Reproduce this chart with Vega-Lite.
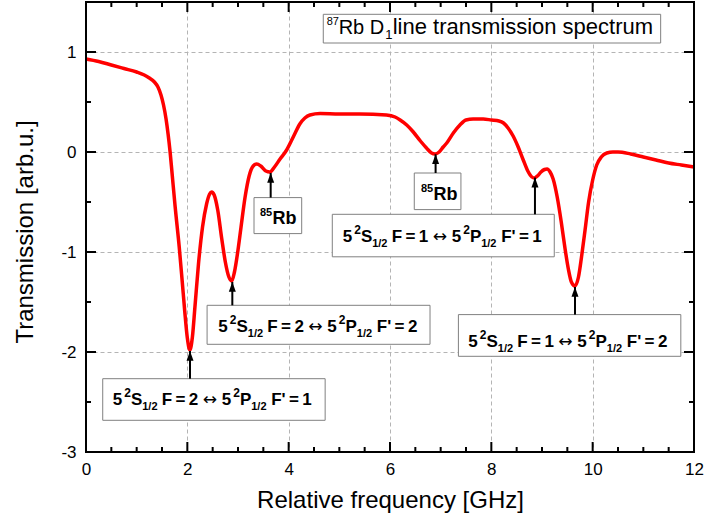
{
  "$schema": "https://vega.github.io/schema/vega-lite/v6.json",
  "width": 608,
  "height": 450,
  "autosize": {"type": "none"},
  "padding": {"left": 86, "top": 2, "right": 11, "bottom": 71},
  "background": "white",
  "config": {"view": {"stroke": null}, "font": "Liberation Sans"},
  "datasets": {
    "curve": [
      {"x": 0.0, "y": 0.93}, {"x": 0.25, "y": 0.905}, {"x": 0.5, "y": 0.87}, {"x": 0.75, "y": 0.835},
      {"x": 1.0, "y": 0.80}, {"x": 1.15, "y": 0.77}, {"x": 1.25, "y": 0.74}, {"x": 1.35, "y": 0.70},
      {"x": 1.42, "y": 0.65}, {"x": 1.48, "y": 0.57}, {"x": 1.53, "y": 0.47}, {"x": 1.58, "y": 0.33},
      {"x": 1.62, "y": 0.18}, {"x": 1.66, "y": 0.0}, {"x": 1.70, "y": -0.22}, {"x": 1.76, "y": -0.55},
      {"x": 1.84, "y": -0.95}, {"x": 1.90, "y": -1.30}, {"x": 1.95, "y": -1.60}, {"x": 2.00, "y": -1.86},
      {"x": 2.05, "y": -1.98}, {"x": 2.10, "y": -1.85}, {"x": 2.15, "y": -1.55}, {"x": 2.22, "y": -1.12},
      {"x": 2.30, "y": -0.75}, {"x": 2.38, "y": -0.52}, {"x": 2.44, "y": -0.42}, {"x": 2.48, "y": -0.40},
      {"x": 2.53, "y": -0.43}, {"x": 2.60, "y": -0.58}, {"x": 2.68, "y": -0.87}, {"x": 2.75, "y": -1.10},
      {"x": 2.82, "y": -1.25}, {"x": 2.875, "y": -1.29}, {"x": 2.93, "y": -1.20}, {"x": 3.00, "y": -0.98},
      {"x": 3.06, "y": -0.75}, {"x": 3.14, "y": -0.45}, {"x": 3.22, "y": -0.24}, {"x": 3.30, "y": -0.14},
      {"x": 3.37, "y": -0.12}, {"x": 3.45, "y": -0.14}, {"x": 3.55, "y": -0.19}, {"x": 3.63, "y": -0.20},
      {"x": 3.72, "y": -0.15}, {"x": 3.83, "y": -0.07}, {"x": 3.96, "y": 0.02}, {"x": 4.10, "y": 0.16},
      {"x": 4.22, "y": 0.28}, {"x": 4.32, "y": 0.34}, {"x": 4.42, "y": 0.37}, {"x": 4.62, "y": 0.385},
      {"x": 5.0, "y": 0.38}, {"x": 5.4, "y": 0.38}, {"x": 5.93, "y": 0.37}, {"x": 6.10, "y": 0.35},
      {"x": 6.20, "y": 0.32}, {"x": 6.33, "y": 0.27}, {"x": 6.46, "y": 0.20}, {"x": 6.60, "y": 0.11},
      {"x": 6.72, "y": 0.04}, {"x": 6.82, "y": -0.01}, {"x": 6.89, "y": -0.02}, {"x": 6.97, "y": 0.0},
      {"x": 7.05, "y": 0.05}, {"x": 7.12, "y": 0.09}, {"x": 7.25, "y": 0.19}, {"x": 7.38, "y": 0.27},
      {"x": 7.50, "y": 0.32}, {"x": 7.64, "y": 0.33}, {"x": 7.84, "y": 0.33}, {"x": 8.0, "y": 0.32},
      {"x": 8.15, "y": 0.31}, {"x": 8.24, "y": 0.29}, {"x": 8.33, "y": 0.24}, {"x": 8.43, "y": 0.16},
      {"x": 8.53, "y": 0.05}, {"x": 8.63, "y": -0.08}, {"x": 8.72, "y": -0.19}, {"x": 8.80, "y": -0.25},
      {"x": 8.85, "y": -0.26}, {"x": 8.92, "y": -0.235}, {"x": 8.98, "y": -0.20}, {"x": 9.05, "y": -0.175},
      {"x": 9.10, "y": -0.17}, {"x": 9.16, "y": -0.20}, {"x": 9.22, "y": -0.27}, {"x": 9.30, "y": -0.45},
      {"x": 9.38, "y": -0.70}, {"x": 9.45, "y": -0.95}, {"x": 9.52, "y": -1.17}, {"x": 9.58, "y": -1.30},
      {"x": 9.65, "y": -1.34}, {"x": 9.72, "y": -1.25}, {"x": 9.78, "y": -1.05}, {"x": 9.85, "y": -0.78},
      {"x": 9.92, "y": -0.50}, {"x": 10.0, "y": -0.28}, {"x": 10.08, "y": -0.13}, {"x": 10.17, "y": -0.05},
      {"x": 10.28, "y": -0.01}, {"x": 10.40, "y": 0.0}, {"x": 10.5, "y": 0.0}, {"x": 10.75, "y": -0.02},
      {"x": 11.0, "y": -0.05}, {"x": 11.25, "y": -0.08}, {"x": 11.5, "y": -0.11}, {"x": 11.75, "y": -0.13},
      {"x": 12.0, "y": -0.15}
    ],
    "boxes": [
      {"x": 0.33, "x2": 4.72, "y": -2.267, "y2": -2.683},
      {"x": 2.39, "x2": 6.79, "y": -1.533, "y2": -1.923},
      {"x": 4.861, "x2": 9.242, "y": -0.623, "y2": -1.048},
      {"x": 7.35, "x2": 11.74, "y": -1.626, "y2": -2.043},
      {"x": 3.316, "x2": 4.257, "y": -0.456, "y2": -0.816},
      {"x": 6.479, "x2": 7.40, "y": -0.21, "y2": -0.576},
      {"x": 4.683, "x2": 11.342, "y": 1.377, "y2": 1.09}
    ],
    "arrows": [
      {"x": 2.053, "y": -2.267, "y2": -1.99},
      {"x": 2.888, "y": -1.533, "y2": -1.30},
      {"x": 3.645, "y": -0.456, "y2": -0.21},
      {"x": 6.90, "y": -0.21, "y2": -0.023},
      {"x": 8.861, "y": -0.623, "y2": -0.256},
      {"x": 9.651, "y": -1.626, "y2": -1.35}
    ],
    "trans": [
      {"x": 0.527, "y": -2.533, "f": "F\u2009=\u20092", "end": "F'\u2009=\u20091"},
      {"x": 2.611, "y": -1.80, "f": "F\u2009=\u20092", "end": "F'\u2009=\u20092"},
      {"x": 5.066, "y": -0.898, "f": "F\u2009=\u20091", "end": "F'\u2009=\u20091"},
      {"x": 7.545, "y": -1.953, "f": "F\u2009=\u20091", "end": "F'\u2009=\u20092"}
    ],
    "rb": [
      {"x": 3.434, "y": -0.723},
      {"x": 6.611, "y": -0.483}
    ],
    "title": [
      {"x": 4.75, "y": 1.184}
    ],
    "xmaj": [{"v": 0}, {"v": 2}, {"v": 4}, {"v": 6}, {"v": 8}, {"v": 10}, {"v": 12}],
    "xmin": [{"v": 0.5}, {"v": 1}, {"v": 1.5}, {"v": 2.5}, {"v": 3}, {"v": 3.5}, {"v": 4.5}, {"v": 5}, {"v": 5.5},
             {"v": 6.5}, {"v": 7}, {"v": 7.5}, {"v": 8.5}, {"v": 9}, {"v": 9.5}, {"v": 10.5}, {"v": 11}, {"v": 11.5}],
    "ymaj": [{"v": -3}, {"v": -2}, {"v": -1}, {"v": 0}, {"v": 1}],
    "ymin": [{"v": -2.5}, {"v": -1.5}, {"v": -0.5}, {"v": 0.5}]
  },
  "layer": [
    {
      "data": {"name": "curve"},
      "mark": {"type": "line", "color": "#ff0000", "strokeWidth": 3.5, "interpolate": "monotone", "strokeJoin": "round"},
      "encoding": {
        "x": {"field": "x", "type": "quantitative", "scale": {"domain": [0, 12], "nice": false, "zero": false},
          "axis": {"orient": "bottom", "values": [0,2,4,6,8,10,12], "domain": false, "ticks": false, "tickSize": 0,
            "labelFont": "Liberation Sans", "labelFontSize": 17, "labelColor": "black", "labelPadding": 9,
            "labelFlush": false, "labelOverlap": false,
            "grid": true, "gridColor": "#b4b4b4", "gridDash": [4, 3], "gridWidth": 1,
            "title": "Relative frequency [GHz]", "titleFont": "Liberation Sans", "titleFontSize": 24, "titleFontWeight": "normal", "titleColor": "black",
            "titleY": 55, "titleBaseline": "alphabetic"}},
        "y": {"field": "y", "type": "quantitative", "scale": {"domain": [-3, 1.5], "nice": false, "zero": false},
          "axis": {"orient": "left", "values": [-3,-2,-1,0,1], "domain": false, "ticks": false, "tickSize": 0,
            "labelExpr": "'' + datum.value",
            "labelFont": "Liberation Sans", "labelFontSize": 17, "labelColor": "black", "labelPadding": 10,
            "labelFlush": false, "labelOverlap": false,
            "grid": true, "gridColor": "#b4b4b4", "gridDash": [4, 3], "gridWidth": 1,
            "title": "Transmission [arb.u.]", "titleFont": "Liberation Sans", "titleFontSize": 24, "titleFontWeight": "normal", "titleColor": "black",
            "titleX": -54, "titleY": 229.5, "titleBaseline": "alphabetic", "titleAngle": -90}}
      }
    },
    {
      "data": {"name": "boxes"},
      "mark": {"type": "rect", "fill": "white", "stroke": "#808080", "strokeWidth": 1},
      "encoding": {
        "x": {"field": "x", "type": "quantitative", "scale": {"domain": [0, 12], "nice": false, "zero": false}, "axis": null},
        "x2": {"field": "x2"},
        "y": {"field": "y", "type": "quantitative", "scale": {"domain": [-3, 1.5], "nice": false, "zero": false}, "axis": null},
        "y2": {"field": "y2"}
      }
    },
    {
      "data": {"name": "arrows"},
      "mark": {"type": "rule", "color": "black", "strokeWidth": 2},
      "encoding": {
        "x": {"field": "x", "type": "quantitative", "scale": {"domain": [0, 12], "nice": false, "zero": false}, "axis": null},
        "y": {"field": "y", "type": "quantitative", "scale": {"domain": [-3, 1.5], "nice": false, "zero": false}, "axis": null},
        "y2": {"field": "y2"}
      }
    },
    {
      "data": {"name": "arrows"},
      "mark": {"type": "point", "shape": "M0,0L-1,2.8L1,2.8Z", "filled": true, "size": 49, "color": "black", "opacity": 1, "strokeWidth": 0},
      "encoding": {
        "x": {"field": "x", "type": "quantitative", "scale": {"domain": [0, 12], "nice": false, "zero": false}, "axis": null},
        "y": {"field": "y2", "type": "quantitative", "scale": {"domain": [-3, 1.5], "nice": false, "zero": false}, "axis": null}
      }
    },
    {
      "data": {"name": "trans"},
      "encoding": {
        "x": {"field": "x", "type": "quantitative", "scale": {"domain": [0, 12], "nice": false, "zero": false}, "axis": null},
        "y": {"field": "y", "type": "quantitative", "scale": {"domain": [-3, 1.5], "nice": false, "zero": false}, "axis": null}
      },
      "layer": [
        {"mark": {"type": "text", "align": "left", "baseline": "alphabetic", "fontSize": 17, "fontWeight": "bold", "dx": 0, "text": "5"}},
        {"mark": {"type": "text", "align": "left", "baseline": "alphabetic", "fontSize": 12, "fontWeight": "bold", "dx": 11.5, "dy": -8, "text": "2"}},
        {"mark": {"type": "text", "align": "left", "baseline": "alphabetic", "fontSize": 17, "fontWeight": "bold", "dx": 18.2, "text": "S"}},
        {"mark": {"type": "text", "align": "left", "baseline": "alphabetic", "fontSize": 11, "fontWeight": "bold", "dx": 29.5, "dy": 5, "text": "1/2"}},
        {"mark": {"type": "text", "align": "left", "baseline": "alphabetic", "fontSize": 17, "fontWeight": "bold", "dx": 49}, "encoding": {"text": {"field": "f"}}},
        {"mark": {"type": "text", "align": "left", "baseline": "alphabetic", "fontSize": 17, "font": "DejaVu Sans", "dx": 90, "text": "\u2194"}},
        {"mark": {"type": "text", "align": "left", "baseline": "alphabetic", "fontSize": 17, "fontWeight": "bold", "dx": 109, "text": "5"}},
        {"mark": {"type": "text", "align": "left", "baseline": "alphabetic", "fontSize": 12, "fontWeight": "bold", "dx": 120.5, "dy": -8, "text": "2"}},
        {"mark": {"type": "text", "align": "left", "baseline": "alphabetic", "fontSize": 17, "fontWeight": "bold", "dx": 127.2, "text": "P"}},
        {"mark": {"type": "text", "align": "left", "baseline": "alphabetic", "fontSize": 11, "fontWeight": "bold", "dx": 138.5, "dy": 5, "text": "1/2"}},
        {"mark": {"type": "text", "align": "left", "baseline": "alphabetic", "fontSize": 17, "fontWeight": "bold", "dx": 158.5}, "encoding": {"text": {"field": "end"}}}
      ]
    },
    {
      "data": {"name": "rb"},
      "encoding": {
        "x": {"field": "x", "type": "quantitative", "scale": {"domain": [0, 12], "nice": false, "zero": false}, "axis": null},
        "y": {"field": "y", "type": "quantitative", "scale": {"domain": [-3, 1.5], "nice": false, "zero": false}, "axis": null}
      },
      "layer": [
        {"mark": {"type": "text", "align": "left", "baseline": "alphabetic", "fontSize": 11, "fontWeight": "bold", "dx": 0, "dy": -8, "text": "85"}},
        {"mark": {"type": "text", "align": "left", "baseline": "alphabetic", "fontSize": 18, "fontWeight": "bold", "dx": 12.5, "text": "Rb"}}
      ]
    },
    {
      "data": {"name": "title"},
      "encoding": {
        "x": {"field": "x", "type": "quantitative", "scale": {"domain": [0, 12], "nice": false, "zero": false}, "axis": null},
        "y": {"field": "y", "type": "quantitative", "scale": {"domain": [-3, 1.5], "nice": false, "zero": false}, "axis": null}
      },
      "layer": [
        {"mark": {"type": "text", "align": "left", "baseline": "alphabetic", "fontSize": 11, "dx": 0, "dy": -9, "text": "87"}},
        {"mark": {"type": "text", "align": "left", "baseline": "alphabetic", "fontSize": 20, "dx": 12, "text": "Rb D"}},
        {"mark": {"type": "text", "align": "left", "baseline": "alphabetic", "fontSize": 13, "dx": 58.5, "dy": 5, "text": "1"}},
        {"mark": {"type": "text", "align": "left", "baseline": "alphabetic", "fontSize": 22, "dx": 66, "text": "line transmission spectrum"}}
      ]
    },
    {
      "data": {"name": "title"},
      "mark": {"type": "rect", "filled": false, "fill": null, "stroke": "black", "strokeWidth": 2},
      "encoding": {
        "x": {"datum": 0, "type": "quantitative", "scale": {"domain": [0, 12], "nice": false, "zero": false}, "axis": null},
        "x2": {"datum": 12},
        "y": {"datum": -3, "type": "quantitative", "scale": {"domain": [-3, 1.5], "nice": false, "zero": false}, "axis": null},
        "y2": {"datum": 1.5}
      }
    },
    {
      "data": {"name": "xmaj"},
      "layer": [
        {"mark": {"type": "tick", "orient": "vertical", "size": 10, "thickness": 2, "color": "black", "opacity": 1},
          "encoding": {
            "x": {"field": "v", "type": "quantitative", "scale": {"domain": [0, 12], "nice": false, "zero": false}, "axis": null},
            "y": {"datum": -2.95, "type": "quantitative", "scale": {"domain": [-3, 1.5], "nice": false, "zero": false}, "axis": null}}},
        {"mark": {"type": "tick", "orient": "vertical", "size": 10, "thickness": 2, "color": "black", "opacity": 1},
          "encoding": {
            "x": {"field": "v", "type": "quantitative", "scale": {"domain": [0, 12], "nice": false, "zero": false}, "axis": null},
            "y": {"datum": 1.45, "type": "quantitative", "scale": {"domain": [-3, 1.5], "nice": false, "zero": false}, "axis": null}}}
      ]
    },
    {
      "data": {"name": "xmin"},
      "layer": [
        {"mark": {"type": "tick", "orient": "vertical", "size": 5, "thickness": 2, "color": "black", "opacity": 1},
          "encoding": {
            "x": {"field": "v", "type": "quantitative", "scale": {"domain": [0, 12], "nice": false, "zero": false}, "axis": null},
            "y": {"datum": -2.975, "type": "quantitative", "scale": {"domain": [-3, 1.5], "nice": false, "zero": false}, "axis": null}}},
        {"mark": {"type": "tick", "orient": "vertical", "size": 5, "thickness": 2, "color": "black", "opacity": 1},
          "encoding": {
            "x": {"field": "v", "type": "quantitative", "scale": {"domain": [0, 12], "nice": false, "zero": false}, "axis": null},
            "y": {"datum": 1.475, "type": "quantitative", "scale": {"domain": [-3, 1.5], "nice": false, "zero": false}, "axis": null}}}
      ]
    },
    {
      "data": {"name": "ymaj"},
      "layer": [
        {"mark": {"type": "tick", "orient": "horizontal", "size": 10, "thickness": 2, "color": "black", "opacity": 1},
          "encoding": {
            "x": {"datum": 0.0987, "type": "quantitative", "scale": {"domain": [0, 12], "nice": false, "zero": false}, "axis": null},
            "y": {"field": "v", "type": "quantitative", "scale": {"domain": [-3, 1.5], "nice": false, "zero": false}, "axis": null}}},
        {"mark": {"type": "tick", "orient": "horizontal", "size": 10, "thickness": 2, "color": "black", "opacity": 1},
          "encoding": {
            "x": {"datum": 11.9013, "type": "quantitative", "scale": {"domain": [0, 12], "nice": false, "zero": false}, "axis": null},
            "y": {"field": "v", "type": "quantitative", "scale": {"domain": [-3, 1.5], "nice": false, "zero": false}, "axis": null}}}
      ]
    },
    {
      "data": {"name": "ymin"},
      "layer": [
        {"mark": {"type": "tick", "orient": "horizontal", "size": 5, "thickness": 2, "color": "black", "opacity": 1},
          "encoding": {
            "x": {"datum": 0.0493, "type": "quantitative", "scale": {"domain": [0, 12], "nice": false, "zero": false}, "axis": null},
            "y": {"field": "v", "type": "quantitative", "scale": {"domain": [-3, 1.5], "nice": false, "zero": false}, "axis": null}}},
        {"mark": {"type": "tick", "orient": "horizontal", "size": 5, "thickness": 2, "color": "black", "opacity": 1},
          "encoding": {
            "x": {"datum": 11.9507, "type": "quantitative", "scale": {"domain": [0, 12], "nice": false, "zero": false}, "axis": null},
            "y": {"field": "v", "type": "quantitative", "scale": {"domain": [-3, 1.5], "nice": false, "zero": false}, "axis": null}}}
      ]
    }
  ],
  "resolve": {"axis": {"x": "independent", "y": "independent"}}
}
